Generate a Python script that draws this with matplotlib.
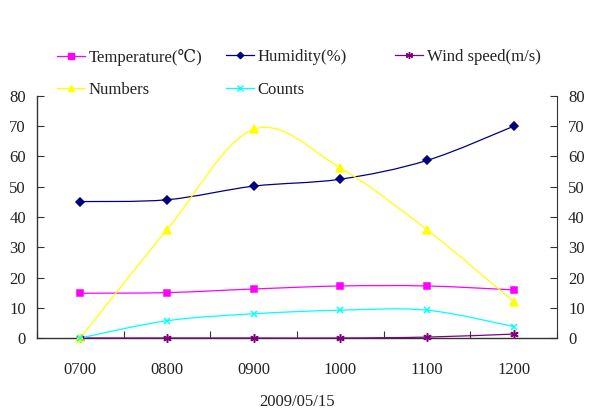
import numpy as np
import matplotlib
matplotlib.use("Agg")
import matplotlib.pyplot as plt
from matplotlib.path import Path
from matplotlib.patches import PathPatch
from matplotlib.lines import Line2D

categories = ["0700", "0800", "0900", "1000", "1100", "1200"]
temperature = [14.8, 15.0, 16.2, 17.2, 17.2, 15.9]
humidity = [45.1, 45.7, 50.2, 52.5, 58.7, 70.0]
wind = [0.0, 0.0, 0.0, 0.0, 0.3, 1.3]
numbers = [0.0, 35.8, 69.0, 56.2, 35.8, 12.0]
counts = [0.0, 5.7, 8.0, 9.2, 9.2, 3.8]
x_label = "2009/05/15"

series = [
    ("Temperature(℃)", temperature, "#FF00FF", "s", 4.6),
    ("Humidity(%)", humidity, "#000080", "D", 3.8),
    ("Wind speed(m/s)", wind, "#800080", (6, 2, 0), 6.0),
    ("Numbers", numbers, "#FFFF00", "^", 5.5),
    ("Counts", counts, "#00FFFF", "x", 5.0),
]
# legend anchor positions (pixels: handle start x, row center y)
legend_pos = [(57, 57), (226, 57), (395, 57), (57, 90), (226, 90)]

plt.rcParams['font.family'] = ['Liberation Serif', 'DejaVu Serif']

W, H = 599, 415
fig = plt.figure(figsize=(W / 100, H / 100), dpi=100)
ax = fig.add_axes([37/W, 1-338/H, (557-37)/W, (338-96)/H])


def smooth_path(xs, ys):
    pts = np.column_stack([xs, ys]).astype(float)
    n = len(pts)
    verts = [pts[0]]
    codes = [Path.MOVETO]
    for i in range(n - 1):
        p0 = pts[i - 1] if i > 0 else pts[i]
        p1 = pts[i]
        p2 = pts[i + 1]
        p3 = pts[i + 2] if i + 2 < n else pts[i + 1]
        c1 = p1 + (p2 - p0) / 6.0
        c2 = p2 - (p3 - p1) / 6.0
        verts += [c1, c2, p2]
        codes += [Path.CURVE4] * 3
    return Path(verts, codes)


xs = np.arange(len(categories))
for (name, vals, color, marker, ms), (lx, ly) in zip(series, legend_pos):
    patch = PathPatch(smooth_path(xs, vals), facecolor="none", edgecolor=color,
                      lw=0.9, zorder=3, clip_on=False)
    ax.add_patch(patch)
    ax.plot(xs, vals, linestyle="none", marker=marker, ms=ms, color=color,
            mec=color, mew=1.1, zorder=4, clip_on=False)
    lh = Line2D([], [], color=color, lw=0.9, marker=marker, ms=ms * 0.85,
                mec=color, mew=1.0)
    fig.legend([lh], [name], loc="center left",
               bbox_to_anchor=(lx / W, 1 - ly / H), frameon=False,
               fontsize=12, handlelength=1.65, handletextpad=0.25,
               borderpad=0, borderaxespad=0, labelcolor="#222222")

ax.set_xlim(-0.5, len(categories) - 0.5)
ax.set_ylim(0, 80)
ax.set_yticks(np.arange(0, 81, 10))

ax.set_xticks(np.arange(-0.5, len(categories), 1.0))
ax.set_xticklabels([])
ax.set_xticks(xs, minor=True)
ax.set_xticklabels(categories, minor=True)
ax.tick_params(axis="x", which="major", direction="in", length=5, color="#333333")
ax.tick_params(axis="x", which="minor", length=0, pad=17, labelsize=12, labelcolor="#222222")
ax.tick_params(axis="y", direction="in", length=5, labelsize=12, labelcolor="#222222", color="#333333", pad=8)

ax.spines["top"].set_visible(False)
ax.spines["right"].set_visible(False)
for s in ["left", "bottom"]:
    ax.spines[s].set_color("#333333")
    ax.spines[s].set_linewidth(1.0)

ax2 = ax.twinx()
ax2.set_ylim(0, 80)
ax2.set_yticks(np.arange(0, 81, 10))
ax2.tick_params(axis="y", direction="in", length=5, labelsize=12, labelcolor="#222222", color="#333333", pad=8)
ax2.spines["top"].set_visible(False)
ax2.spines["left"].set_visible(False)
ax2.spines["bottom"].set_visible(False)
ax2.spines["right"].set_color("#333333")

ax.set_xlabel(x_label, fontsize=12, color="#222222", labelpad=12)

fig.savefig("out.png", dpi=100, facecolor="white")
